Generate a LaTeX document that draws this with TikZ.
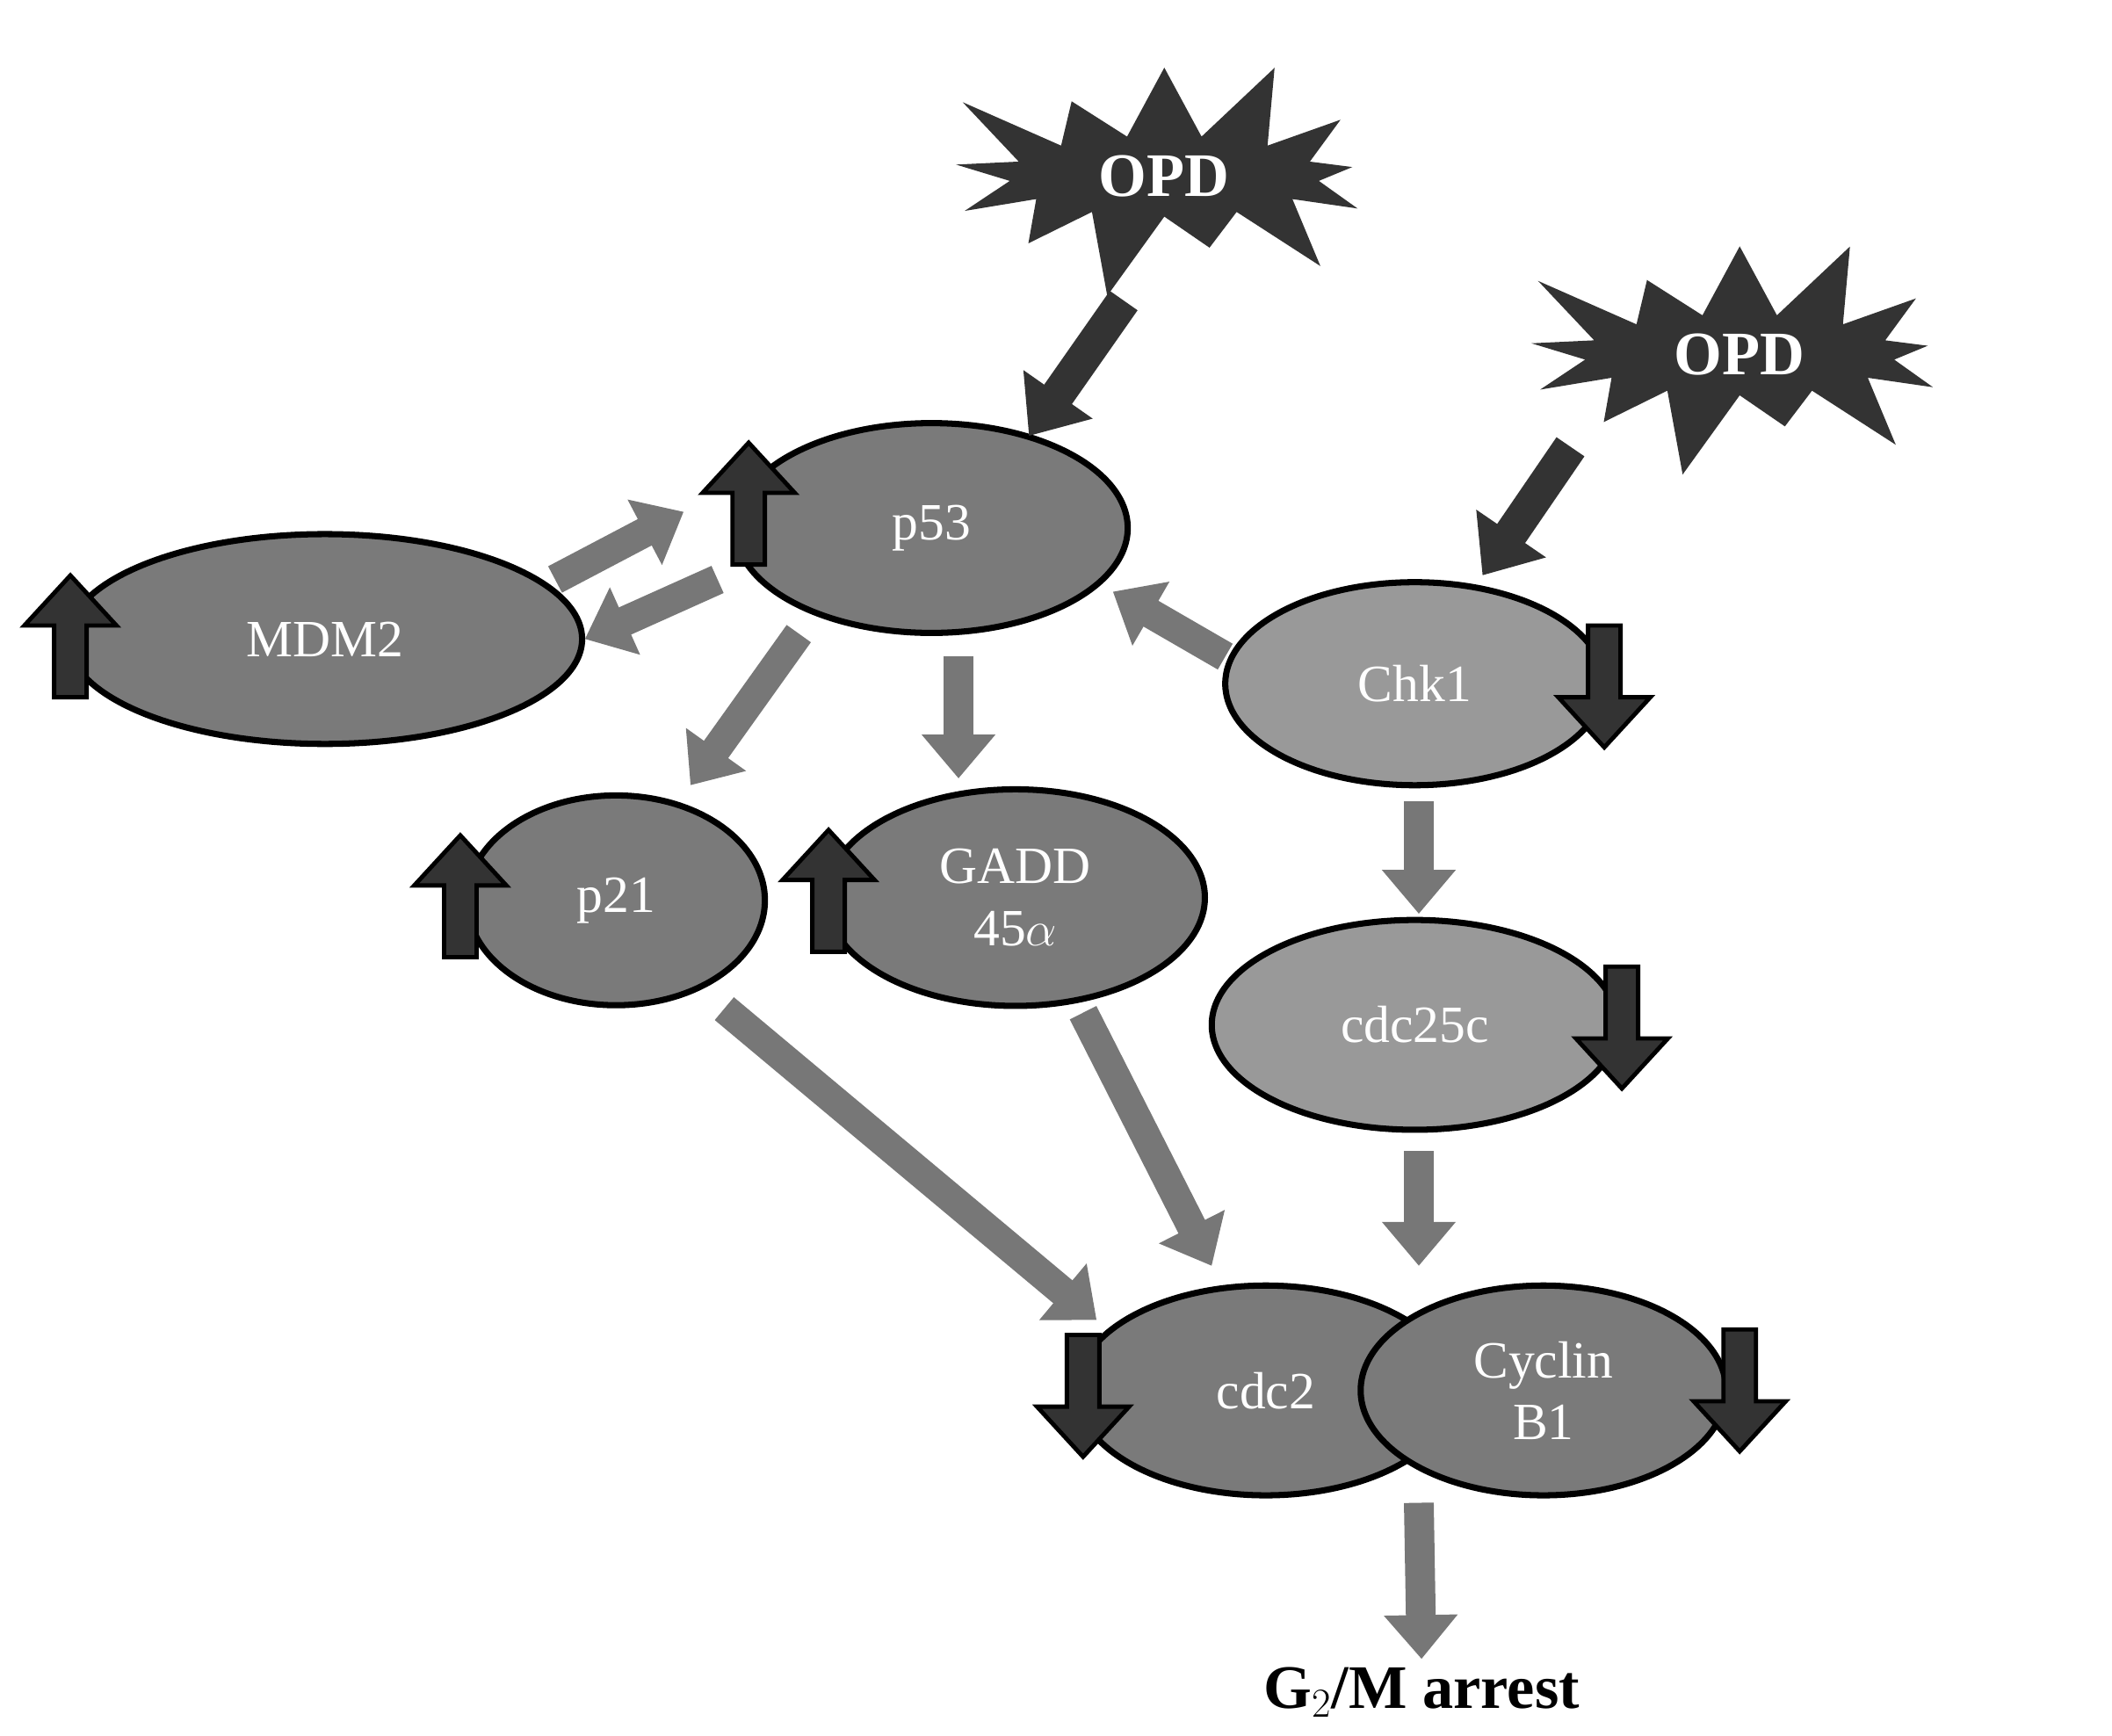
\documentclass[tikz,border=0pt]{standalone}
\usepackage{fontspec}
\setmainfont{Liberation Serif}
\usetikzlibrary{arrows.meta,shapes.symbols,shapes.geometric}
\definecolor{ell}{HTML}{7A7A7A}
\definecolor{ellL}{HTML}{999999}
\definecolor{arr}{HTML}{777777}
\definecolor{dark}{HTML}{333333}
\begin{document}
\pgfmathsetseed{7}
\begin{tikzpicture}[x=0.02cm,y=-0.02cm,
  el/.style={ellipse,draw=black,line width=2.6pt,fill=ell,text=white,font=\fontsize{22}{26}\selectfont,align=center,inner sep=0pt},
  ga/.style={arr,line width=0.44cm,-{Triangle[width=1.05cm,length=0.65cm]}},
  da/.style={dark,line width=0.5cm,-{Triangle[width=1.2cm,length=0.75cm]}},
  sa/.style={draw=black,line width=1.8pt,fill=dark},
  star/.style={starburst,starburst points=13,starburst point height=1.4cm,fill=dark,text=white,font=\bfseries\fontsize{26}{30}\selectfont},
  uparr/.pic={\draw[sa] (-12,45)--(12,45)--(12,-8)--(34,-8)--(0,-45)--(-34,-8)--(-12,-8)--cycle;},
  dnarr/.pic={\draw[sa] (-12,-45)--(12,-45)--(12,8)--(34,8)--(0,45)--(-34,8)--(-12,8)--cycle;}]
\useasboundingbox (0,0) rectangle (1560,1282);
\node[star,minimum width=7.4cm,minimum height=2.6cm] (opd1) at (860,130) {OPD};
\node[star,minimum width=7.4cm,minimum height=2.8cm] (opd2) at (1285,262) {OPD};
\node[el,minimum width=5.8cm,minimum height=3.1cm] (p53) at (688,390) {p53};
\node[el,minimum width=7.6cm,minimum height=3.1cm] (mdm2) at (240,472) {MDM2};
\node[el,fill=ellL,minimum width=5.6cm,minimum height=3cm] (chk1) at (1045,505) {Chk1};
\node[el,minimum width=4.4cm,minimum height=3.1cm] (p21) at (455,665) {p21};
\node[el,minimum width=5.6cm,minimum height=3.2cm] (gadd) at (750,663) {GADD\\45$\alpha$};
\node[el,fill=ellL,minimum width=6cm,minimum height=3.1cm] (cdc25c) at (1045,757) {cdc25c};
\node[el,minimum width=5.6cm,minimum height=3.1cm] (cdc2) at (935,1027) {cdc2};
\node[el,minimum width=5.4cm,minimum height=3.1cm] (cyc) at (1140,1027) {Cyclin\\B1};
\node[font=\bfseries\fontsize{26}{30}\selectfont] (g2m) at (1050,1250) {G$_2$/M arrest};
\coordinate (a1) at (830,222);
\coordinate (a2) at (1160,330);
\coordinate (m1) at (410,428);
\coordinate (p1) at (530,428);
\coordinate (c1) at (905,485);
\coordinate (p2) at (590,468);
\coordinate (p3) at (708,485);
\coordinate (c2) at (1048,592);
\coordinate (q1) at (535,745);
\coordinate (g1) at (800,748);
\coordinate (c3) at (1048,850);
\coordinate (k1) at (1048,1110);
\coordinate (m2) at (505,378);
\coordinate (d1) at (432,472);
\coordinate (p4) at (822,437);
\coordinate (r1) at (510,580);
\coordinate (g2) at (708,575);
\coordinate (c4) at (1048,675);
\coordinate (x1) at (810,975);
\coordinate (x2) at (895,935);
\coordinate (x3) at (1048,935);
\draw[da] (a1) -- (760,322);
\draw[da] (a2) -- (1095,425);
\draw[ga] (m1) -- (m2);
\draw[ga] (p1) -- (d1);
\draw[ga] (c1) -- (p4);
\draw[ga] (p2) -- (r1);
\draw[ga] (p3) -- (g2);
\draw[ga] (c2) -- (c4);
\draw[ga] (q1) -- (x1);
\draw[ga] (g1) -- (x2);
\draw[ga] (c3) -- (x3);
\draw[ga] (k1) -- (g2m.north);
\pic at (52,470) {uparr};
\pic at (553,372) {uparr};
\pic at (340,662) {uparr};
\pic at (612,658) {uparr};
\pic at (1185,507) {dnarr};
\pic at (1198,759) {dnarr};
\pic at (800,1031) {dnarr};
\pic at (1285,1027) {dnarr};
\end{tikzpicture}
\end{document}
